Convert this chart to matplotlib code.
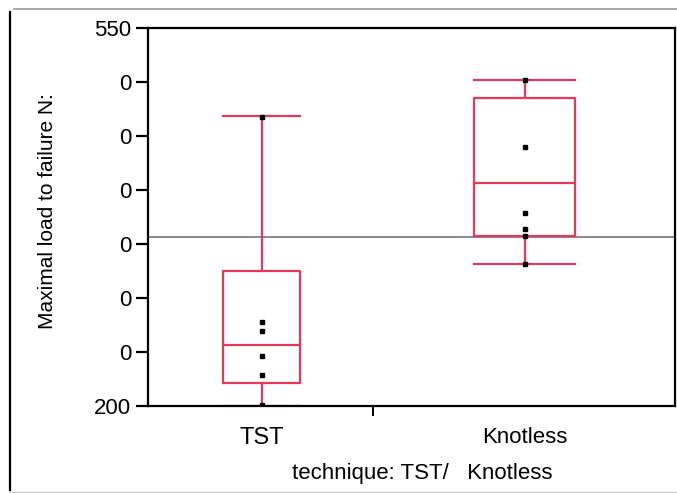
import numpy as np
import matplotlib.pyplot as plt
from matplotlib.lines import Line2D

plt.rcParams['font.family'] = ['Liberation Sans', 'DejaVu Sans']

# data
groups = ['TST', 'Knotless']
positions = [0.216, 0.715]
box_widths = [0.146, 0.192]
tst_points = [468, 277.5, 269.7, 246, 228.4, 201]
knotless_points = [502, 439.5, 378.7, 364.2, 357.4, 331.5]
# whislo, q1, median, q3, whishi
tst_box = [200, 221.3, 256.5, 325, 468.5]
knotless_box = [331.5, 357.4, 406.8, 485, 502]
ref_line = 356.5
yticks = [200, 250, 300, 350, 400, 450, 500, 550]
ytick_labels = ['200', '0', '0', '0', '0', '0', '0', '550']

box_color = '#E8385A'

fig = plt.figure(figsize=(6.77, 4.93), dpi=100)
ax = fig.add_axes([148/677, 1 - 406/493, (675 - 148)/677, (406 - 28)/493])

stats = []
for name, b in zip(groups, [tst_box, knotless_box]):
    stats.append(dict(label=name, whislo=b[0], q1=b[1], med=b[2], q3=b[3], whishi=b[4], fliers=[]))

style = dict(color=box_color, linewidth=1.6)
ax.bxp(stats, positions=positions, widths=box_widths, showfliers=False,
       boxprops=style, medianprops=style, whiskerprops=style, capprops=style,
       capwidths=box_widths)

ax.axhline(ref_line, color='#8a8a8a', linewidth=1.4, zorder=1)

for p, pts in zip(positions, [tst_points, knotless_points]):
    ax.plot([p] * len(pts), pts, 's', color='black', markersize=3.5, zorder=5)

ax.set_xlim(0, 1)
ax.set_ylim(200, 550)
ax.set_yticks(yticks)
ax.set_yticklabels(ytick_labels, fontsize=16)
ax.tick_params(axis='y', length=9, width=1.6, pad=3)

ax.set_xticks(positions)
ax.set_xticklabels(groups, fontsize=16)
ax.get_xticklabels()[0].set_fontsize(17)
ax.tick_params(axis='x', length=0, pad=15)
ax.set_xticks([0.427], minor=True)
ax.tick_params(axis='x', which='minor', length=7, width=1.4)

for s in ax.spines.values():
    s.set_linewidth(1.6)

ax.set_ylabel('Maximal load to failure N:', fontsize=15)
ax.yaxis.set_label_coords(-0.172, 0.516)
fig.text(422/677, 1 - 473/493, 'technique: TST/   Knotless', fontsize=16,
         ha='center', va='center')

# frame of the original screenshot
fig.add_artist(Line2D([9.5/677, 9.5/677], [1 - 490/493, 1 - 12/493], color='black', linewidth=1.6))
fig.add_artist(Line2D([14/677, 1], [1 - 9/493, 1 - 9/493], color='#9a9a9a', linewidth=1.2))
fig.add_artist(Line2D([9/677, 1], [1 - 491.5/493, 1 - 491.5/493], color='#c8c8c8', linewidth=1.0))

fig.savefig('out.png', dpi=100)
